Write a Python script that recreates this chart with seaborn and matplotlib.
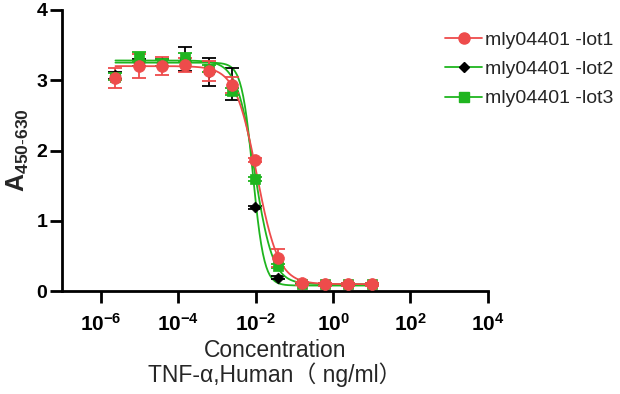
import numpy as np
import pandas as pd
import matplotlib
matplotlib.use("Agg")
import matplotlib.pyplot as plt
import seaborn as sns

# concentrations (ng/ml), 4-fold dilution series
conc = [2.4e-6, 9.5e-6, 3.8e-5, 1.5e-4, 6.1e-4, 2.44e-3, 9.77e-3, 0.039, 0.156, 0.625, 2.5, 10.0]

lot1 = [3.03, 3.20, 3.20, 3.22, 3.13, 2.93, 1.86, 0.47, 0.11, 0.10, 0.10, 0.10]
lot1_sd = [0.14, 0.17, 0.13, 0.10, 0.14, 0.11, 0.03, 0.13, 0.02, 0.02, 0.02, 0.02]
lot2 = [3.07, 3.25, 3.25, 3.30, 3.12, 2.95, 1.19, 0.19, 0.10, 0.10, 0.10, 0.10]
lot2_sd = [0.05, 0.05, 0.05, 0.17, 0.20, 0.23, 0.02, 0.02, 0.01, 0.01, 0.01, 0.01]
lot3 = [3.05, 3.33, 3.25, 3.32, 3.16, 2.84, 1.60, 0.36, 0.10, 0.10, 0.10, 0.10]
lot3_sd = [0.05, 0.07, 0.05, 0.06, 0.05, 0.05, 0.03, 0.03, 0.01, 0.01, 0.01, 0.01]

# 4PL fit parameters (top, bottom, EC50, hill) estimated from the drawn curves
fit1 = (3.20, 0.10, 0.0108, 1.55)
fit2 = (3.25, 0.08, 0.0085, 3.0)
fit3 = (3.28, 0.10, 0.0095, 1.85)

labels = ["mly04401 -lot1", "mly04401 -lot2", "mly04401 -lot3"]
RED, BLACK, GREEN = "#EE4B4B", "#000000", "#1FB51F"


def four_pl(x, top, bottom, ec50, hill):
    return bottom + (top - bottom) / (1 + (x / ec50) ** hill)


sns.set_style("ticks")
plt.rcParams["font.family"] = ["Liberation Sans", "Noto Sans CJK SC", "DejaVu Sans"]
plt.rcParams["mathtext.fontset"] = "custom"
plt.rcParams["mathtext.rm"] = "Liberation Sans"
plt.rcParams["mathtext.bf"] = "Liberation Sans:bold"

fig = plt.figure(figsize=(6.2, 3.94), dpi=100)
ax = fig.add_axes([0.1, 0.261, 0.687, 0.714])

xs = np.logspace(np.log10(conc[0]), np.log10(conc[-1]), 300)
series = [
    (lot2, lot2_sd, fit2, BLACK, GREEN, "D", 5.5),
    (lot3, lot3_sd, fit3, GREEN, GREEN, "s", 7.5),
    (lot1, lot1_sd, fit1, RED, RED, "o", 8.5),
]
for vals, sd, fit, mcol, lcol, mk, ms in series:
    curve = pd.DataFrame({"x": xs, "y": four_pl(xs, *fit)})
    sns.lineplot(data=curve, x="x", y="y", ax=ax, color=lcol, lw=1.3)
    ax.errorbar(conc, vals, yerr=sd, fmt="none", ecolor=mcol, elinewidth=1.3,
                capsize=5, capthick=1.3)
    sns.scatterplot(x=conc, y=vals, ax=ax, color=mcol, marker=mk, s=ms ** 2,
                    edgecolor=mcol, linewidth=0.5, zorder=5)

h1 = plt.Line2D([], [], color=RED, marker="o", ms=8, lw=1.3)
h2 = plt.Line2D([], [], color=GREEN, marker="D", mfc=BLACK, mec=BLACK, ms=5, lw=1.3)
h3 = plt.Line2D([], [], color=GREEN, marker="s", ms=7, lw=1.3)
fig.legend([h1, h2, h3], labels, loc="upper left", bbox_to_anchor=(0.69, 0.965),
           frameon=False, fontsize=14, handlelength=1.9, handletextpad=0.15,
           labelspacing=0.6)

ax.set_xscale("log")
ax.set_xlim(1e-7, 1e4)
ax.set_ylim(0, 4)
ax.set_xticks([1e-6, 1e-4, 1e-2, 1e0, 1e2, 1e4])
ax.set_xticklabels([r"$\mathbf{10^{-6}}$", r"$\mathbf{10^{-4}}$", r"$\mathbf{10^{-2}}$",
                    r"$\mathbf{10^{0}}$", r"$\mathbf{10^{2}}$", r"$\mathbf{10^{4}}$"])
ax.xaxis.set_minor_locator(matplotlib.ticker.NullLocator())
ax.set_yticks([0, 1, 2, 3, 4])
for lab in ax.get_yticklabels():
    lab.set_fontweight("bold")
ax.tick_params(axis="both", labelsize=14, width=2, length=8.5, direction="out", colors="black")
ax.tick_params(axis="x", labelsize=15, pad=7)
ax.tick_params(axis="y", pad=2)
for s in ["left", "bottom"]:
    ax.spines[s].set_linewidth(2)
    ax.spines[s].set_color("black")
sns.despine(ax=ax)

ax.set_xlabel("Concentration\nTNF-α,Human（ ng/ml）", fontsize=16.5, labelpad=3,
              linespacing=1.05)
ax.set_ylabel(r"$\mathbf{A_{450\text{-}630}}$", fontsize=18, labelpad=4)

fig.savefig("out.png", dpi=100)
